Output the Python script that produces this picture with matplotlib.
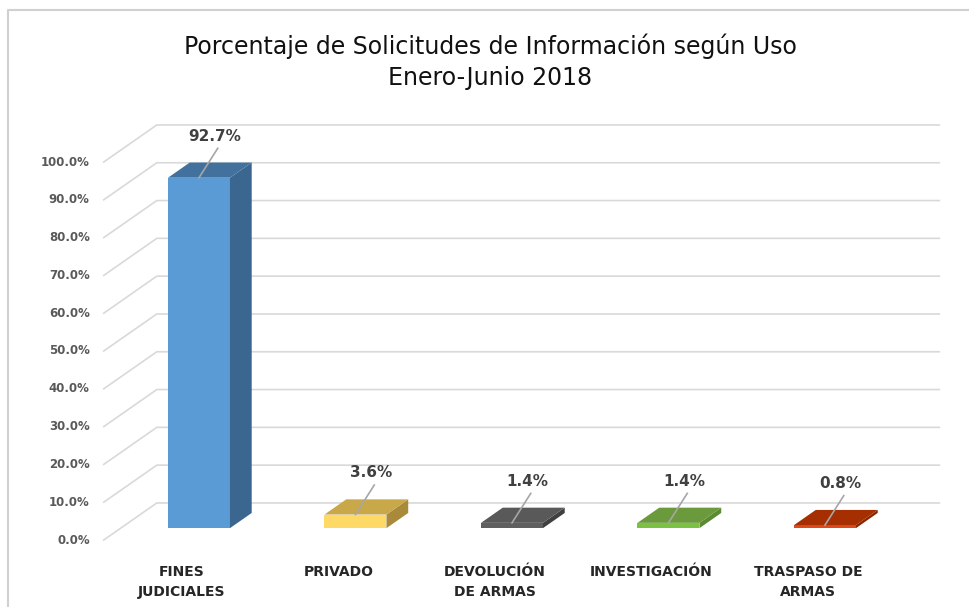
import matplotlib.pyplot as plt
from matplotlib.patches import Polygon

categories = ['FINES\nJUDICIALES', 'PRIVADO', 'DEVOLUCIÓN\nDE ARMAS', 'INVESTIGACIÓN', 'TRASPASO DE\nARMAS']
values = [92.7, 3.6, 1.4, 1.4, 0.8]
value_labels = ['92.7%', '3.6%', '1.4%', '1.4%', '0.8%']
y_ticks = [0, 10, 20, 30, 40, 50, 60, 70, 80, 90, 100]

# front, top, side colours for each bar
front_colors = ['#5b9bd5', '#ffd966', '#5f5f5f', '#7cc242', '#e0491c']
top_colors = ['#41719c', '#c9a84a', '#595959', '#6a9a3c', '#a52f00']
side_colors = ['#3a6690', '#a88a3a', '#404040', '#5a8a32', '#8a2600']

# pixel -> data helpers (category step 156.5 px, 1% = 3.78 px)
def px(x):
    return (x - 182) / 156.5

def py(y):
    return (540 - y) / 3.78

# oblique 3d look: full depth offset in data units
DX, DY = 0.339, 9.8
bar_front, bar_back = 0.32, 0.73
half_w = 0.198

fig = plt.figure(figsize=(9.70, 6.07), dpi=100)
ax = fig.add_axes([0, 0, 1, 1])
ax.set_xlim(px(0), px(970))
ax.set_ylim(py(607), py(0))
ax.axis('off')

grid_c = '#d9d9d9'
x0, x1 = -0.5, len(categories) - 0.5
for v in y_ticks:
    ax.plot([x0, x0 + DX, x1 + DX], [v, v + DY, v + DY], color=grid_c, lw=1.2, zorder=1)
    ax.text(x0 - 0.09, v, f'{v:.1f}%', ha='right', va='center', fontsize=8.5,
            color='#595959', fontweight='bold')

for i, (v, fc, tc, sc) in enumerate(zip(values, front_colors, top_colors, side_colors)):
    fx, fy = i + DX * bar_front, DY * bar_front
    ddx, ddy = DX * (bar_back - bar_front), DY * (bar_back - bar_front)
    l, r = fx - half_w, fx + half_w
    front = Polygon([(l, fy), (r, fy), (r, fy + v), (l, fy + v)], closed=True, fc=fc, ec='none', zorder=3)
    side = Polygon([(r, fy), (r + ddx, fy + ddy), (r + ddx, fy + v + ddy), (r, fy + v)],
                   closed=True, fc=sc, ec='none', zorder=3)
    top = Polygon([(l, fy + v), (r, fy + v), (r + ddx, fy + v + ddy), (l + ddx, fy + v + ddy)],
                  closed=True, fc=tc, ec='none', zorder=3)
    for p in (front, side, top):
        ax.add_patch(p)
    # data label with leader line
    lx, ly = fx + 0.1, fy + v + 11
    ax.plot([fx, lx + 0.02], [fy + v, ly - 3.2], color='#a6a6a6', lw=1.2, zorder=4)
    ax.text(lx, ly, value_labels[i], ha='center', va='center', fontsize=11,
            color='#404040', fontweight='bold', zorder=5)
    ax.text(i, -6.5, categories[i], ha='center', va='top', fontsize=10,
            color='#262626', fontweight='bold', linespacing=1.6)

ax.text(px(490), py(62),
        'Porcentaje de Solicitudes de Información según Uso\nEnero-Junio 2018',
        ha='center', va='center', fontsize=17, color='#111111', linespacing=1.35)

# chart border
ax.plot([px(8), px(8), px(970)], [py(607), py(10), py(10)], color='#d0d0d0', lw=1.5)

fig.savefig('out.png', dpi=100)
